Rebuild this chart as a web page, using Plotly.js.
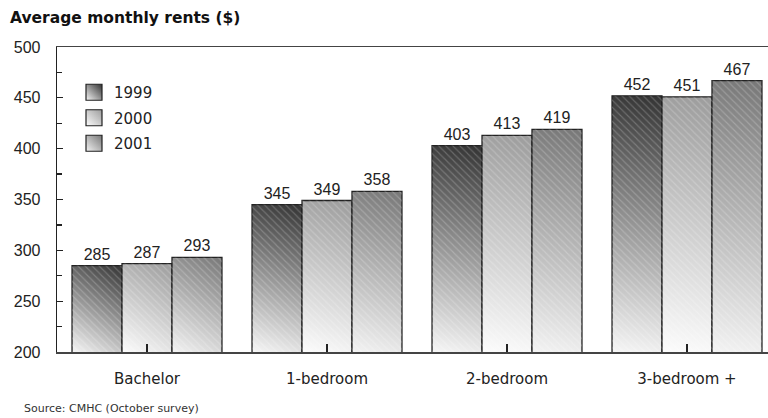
<!DOCTYPE html>
<html>
<head>
<meta charset="utf-8">
<script src="https://cdn.plot.ly/plotly-3.0.1.min.js"></script>
<style>
  html, body { margin: 0; padding: 0; background: #fff; }
  #chart { width: 768px; height: 418px; }
</style>
</head>
<body>
<div id="chart"></div>
<script>
// ---- data ----
var categories = ["Bachelor", "1-bedroom", "2-bedroom", "3-bedroom +"];
var seriesNames = ["1999", "2000", "2001"];
var rents1999 = [285, 345, 403, 452];
var rents2000 = [287, 349, 413, 451];
var rents2001 = [293, 358, 419, 467];
var yTickVals = [200, 250, 300, 350, 400, 450, 500];
var titleText = "Average monthly rents ($)";
var sourceText = "Source: CMHC (October survey)";

var seriesValues = [rents1999, rents2000, rents2001];
var gradStops = [["#333333", "#f6f6f6"], ["#9c9c9c", "#fcfcfc"], ["#777777", "#f3f3f3"]];

var data = [];
seriesValues.forEach(function (vals, i) {
  data.push({
    type: "bar",
    name: seriesNames[i],
    x: categories,
    y: vals,
    offsetgroup: seriesNames[i],
    legendgroup: seriesNames[i],
    marker: { color: gradStops[i][0], line: { color: "#222", width: 1.3 } },
    text: vals.map(String),
    textposition: "outside",
    cliponaxis: false,
    textfont: { family: "Liberation Sans, Arial, sans-serif", size: 16, color: "#222" },
    hoverinfo: "skip"
  });
});
seriesValues.forEach(function (vals, i) {
  data.push({
    type: "bar",
    name: seriesNames[i] + " hatch",
    x: categories,
    y: vals,
    offsetgroup: seriesNames[i],
    showlegend: false,
    marker: {
      color: "rgba(0,0,0,0)",
      line: { width: 0 },
      pattern: { shape: "\\", fgcolor: "rgba(255,255,255,0.22)", bgcolor: "rgba(0,0,0,0)", size: 5, solidity: 0.22 }
    },
    textposition: "none",
    hoverinfo: "skip"
  });
});

var layout = {
  width: 768,
  height: 418,
  margin: { l: 57, r: 0, t: 47, b: 66 },
  paper_bgcolor: "#fff",
  plot_bgcolor: "#fff",
  barmode: "group",
  bargap: 0.167,
  bargroupgap: 0,
  showlegend: true,
  title: {
    text: "<b>" + titleText + "</b>",
    font: { family: "DejaVu Sans, sans-serif", size: 15.5, color: "#111" },
    x: 10 / 768, xanchor: "left", xref: "container",
    y: 1 - 18 / 418, yanchor: "middle", yref: "container"
  },
  xaxis: {
    type: "category",
    range: [-0.5, 3.45],
    showline: true,
    linecolor: "#444",
    linewidth: 1.5,
    mirror: true,
    ticks: "inside",
    ticklen: 8,
    tickcolor: "#222",
    tickwidth: 1.3,
    showgrid: false,
    zeroline: false,
    tickfont: { family: "DejaVu Sans, sans-serif", size: 15, color: "#222" },
    ticklabelstandoff: 12
  },
  yaxis: {
    range: [200, 500],
    tickvals: yTickVals,
    ticktext: yTickVals.map(String),
    showline: true,
    linecolor: "#222",
    linewidth: 1.3,
    ticks: "inside",
    ticklen: 6,
    tickcolor: "#222",
    tickwidth: 1.3,
    minor: { dtick: 25, ticks: "inside", ticklen: 5, tickcolor: "#222", tickwidth: 1.3, showgrid: false },
    showgrid: false,
    zeroline: false,
    tickfont: { family: "Liberation Sans, Arial, sans-serif", size: 16, color: "#222" },
    ticklabelstandoff: 12
  },
  legend: {
    x: (74 - 57) / 711,
    xanchor: "left",
    y: 1 - (76 - 47) / 305,
    yanchor: "top",
    bgcolor: "rgba(0,0,0,0)",
    borderwidth: 0,
    tracegroupgap: 3,
    font: { family: "DejaVu Sans, sans-serif", size: 15, color: "#222" },
    itemclick: false,
    itemdoubleclick: false
  },
  annotations: [{
    text: sourceText,
    xref: "paper", yref: "paper",
    x: (22 - 57) / 711, xanchor: "left",
    y: (352 - 408) / 305, yanchor: "middle",
    showarrow: false,
    font: { family: "DejaVu Sans, sans-serif", size: 11, color: "#333" }
  }]
};

var NS = "http://www.w3.org/2000/svg";
function makeGrad(defs, id, st, x1, y1, x2, y2) {
  var g = document.createElementNS(NS, "linearGradient");
  g.setAttribute("id", id);
  g.setAttribute("gradientUnits", "userSpaceOnUse");
  g.setAttribute("x1", x1); g.setAttribute("y1", y1);
  g.setAttribute("x2", x2); g.setAttribute("y2", y2);
  [[0, st[0]], [1, st[1]]].forEach(function (s) {
    var stop = document.createElementNS(NS, "stop");
    stop.setAttribute("offset", s[0]);
    stop.setAttribute("stop-color", s[1]);
    g.appendChild(stop);
  });
  defs.appendChild(g);
}

function applyGradients(gd) {
  var defs = gd.querySelector(".main-svg defs");
  var plotH = gd._fullLayout._size.h;
  var traces = gd.querySelectorAll(".barlayer .trace");
  var n = 0;
  for (var i = 0; i < 3 && i < traces.length; i++) {
    traces[i].querySelectorAll(".point path").forEach(function (p) {
      var b = p.getBBox();
      var bottom = Math.min(b.y + b.height, plotH);
      var id = "rentGrad" + (n++);
      makeGrad(defs, id, gradStops[i], b.x + b.width, b.y, b.x, bottom);
      p.style.fill = "url(#" + id + ")";
      p.style.fillOpacity = 1;
    });
  }
  var leg = gd.querySelectorAll(".legend .traces");
  leg.forEach(function (t, i) {
    t.querySelectorAll(".legendpoints path").forEach(function (p) {
      p.setAttribute("d", "M8,8H-8V-8H8Z");
      var id = "rentGradLeg" + i;
      makeGrad(defs, id, gradStops[i], 8, -8, -8, 8);
      p.style.fill = "url(#" + id + ")";
      p.style.fillOpacity = 1;
      p.style.stroke = "#222";
      p.style.strokeWidth = "1.2px";
    });
  });
}

Plotly.newPlot("chart", data, layout, { displayModeBar: false, staticPlot: true }).then(applyGradients);
</script>
</body>
</html>
